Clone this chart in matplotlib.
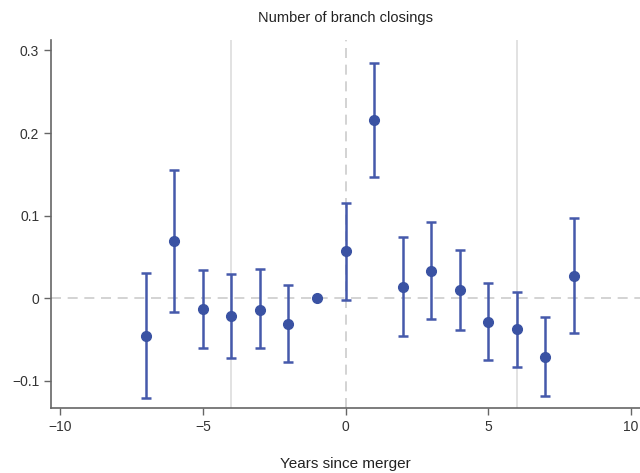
import matplotlib
matplotlib.use("Agg")
import matplotlib.pyplot as plt
import numpy as np

plt.rcParams['font.family'] = ['Liberation Sans', 'DejaVu Sans']

# Event-time coefficients with 95% confidence bounds
years = np.array([-7, -6, -5, -4, -3, -2, -1, 0, 1, 2, 3, 4, 5, 6, 7, 8])
coef = np.array([-0.046, 0.069, -0.013, -0.022, -0.014, -0.031, 0.0, 0.057,
                 0.216, 0.013, 0.033, 0.010, -0.029, -0.038, -0.072, 0.027])
upper = np.array([0.030, 0.155, 0.034, 0.029, 0.035, 0.016, 0.0, 0.115,
                  0.285, 0.074, 0.092, 0.058, 0.018, 0.007, -0.023, 0.097])
lower = np.array([-0.121, -0.017, -0.060, -0.073, -0.061, -0.077, 0.0, -0.003,
                  0.147, -0.046, -0.026, -0.039, -0.075, -0.084, -0.119, -0.042])

navy = '#3a52a3'
bar_blue = '#4559ab'
axis_gray = '#666666'

fig = plt.figure(figsize=(6.4, 4.73), dpi=100)
ax = fig.add_axes([0.0797, 0.1374, 0.9203, 0.778])

# reference lines
ax.axhline(0, color='#cccccc', linestyle=(0, (6, 4)), linewidth=1.2, zorder=1)
ax.axvline(0, color='#cccccc', linestyle=(0, (6, 4)), linewidth=1.2, zorder=1)
for xv in [-4, 6]:
    ax.axvline(xv, color='#dddddd', linewidth=1.2, zorder=1)

has_ci = upper != lower
ax.errorbar(years[has_ci], coef[has_ci],
            yerr=[coef[has_ci] - lower[has_ci], upper[has_ci] - coef[has_ci]],
            fmt='none', ecolor=bar_blue, elinewidth=1.8, capsize=3.5, capthick=1.8,
            zorder=2)
ax.plot(years, coef, 'o', color=navy, markersize=7, zorder=3)

ax.set_xlim(-10.32, 10.32)
ax.set_ylim(-0.1333, 0.3127)
ax.set_xticks([-10, -5, 0, 5, 10])
ax.set_xticklabels(['\u221210', '\u22125', '0', '5', '10'])
ax.set_yticks([-0.1, 0, 0.1, 0.2, 0.3])
ax.set_yticklabels(['\u22120.1', '0', '0.1', '0.2', '0.3'])

for side in ['top', 'right']:
    ax.spines[side].set_visible(False)
for side in ['left', 'bottom']:
    ax.spines[side].set_color(axis_gray)
    ax.spines[side].set_linewidth(1.2)
ax.tick_params(axis='both', colors=axis_gray, labelcolor='#333333',
               length=5, width=1, labelsize=10)

ax.set_title('Number of branch closings', fontsize=10.5, color='#222222', pad=13)
ax.set_xlabel('Years since merger', fontsize=11, color='#222222', labelpad=17)

fig.savefig('out.png', dpi=100)
